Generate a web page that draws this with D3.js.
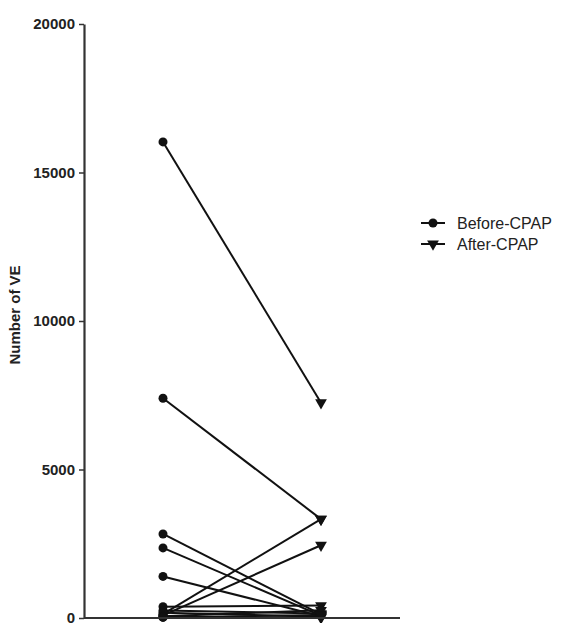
<!DOCTYPE html>
<html>
<head>
<meta charset="utf-8">
<script src="https://cdn.jsdelivr.net/npm/d3@7"></script>
<style>
body { margin: 0; background: #fff; }
text { font-family: Arial, "Liberation Sans", sans-serif; fill: #222; }
.tick text { font-size: 15px; font-weight: bold; }
</style>
</head>
<body>
<div id="chart"></div>
<script>
var width = 563;
var height = 623;

// datos (pares antes / despues)
var groups = ["Before-CPAP", "After-CPAP"];
var before = [16030, 7400, 2830, 2360, 1400, 130, 90, 380, 250, 180, 60, 30, 20];
var after  = [7250, 3330, 120, 80, 60, 3330, 2450, 420, 150, 40, 260, 10, 100];
var yTicks = [0, 5000, 10000, 15000, 20000];

var svg = d3.select("#chart")
			.append("svg")
			.attr("width", width)
			.attr("height", height);

var x = d3.scalePoint().domain(groups).range([84, 400]).padding(0.5);
var y = d3.scaleLinear().domain([0, 20000]).range([618, 24]);

// lineas entre pares
var grupo_lineas = svg.append("g");
for (var i = 0; i < before.length; i++)
{
	grupo_lineas.append("line")
				.attr("x1", x(groups[0]))
				.attr("y1", y(before[i]))
				.attr("x2", x(groups[1]))
				.attr("y2", y(after[i]))
				.attr("stroke", "#111")
				.attr("stroke-width", 2);
}

var tri = d3.symbol().type(d3.symbolTriangle).size(60);

// marcadores
svg.append("g").selectAll("circle")
	.data(before)
	.enter().append("circle")
	.attr("cx", x(groups[0]))
	.attr("cy", function(d) { return y(d); })
	.attr("r", 4.5)
	.attr("fill", "#111");

svg.append("g").selectAll("path")
	.data(after)
	.enter().append("path")
	.attr("d", tri)
	.attr("transform", function(d) { return "translate(" + x(groups[1]) + "," + y(d) + ") rotate(180)"; })
	.attr("fill", "#111");

// ejes
var ejeY = svg.append("g")
	.attr("transform", "translate(84,0)")
	.call(d3.axisLeft(y).tickValues(yTicks).tickFormat(d3.format("d")).tickSize(5).tickSizeOuter(0).tickPadding(4));

var ejeX = svg.append("g")
	.attr("transform", "translate(0,618)")
	.call(d3.axisBottom(x).tickValues([]).tickSizeOuter(0));
x.range();
ejeX.select(".domain").attr("d", "M84,0H400");

svg.selectAll(".domain").attr("stroke", "#333").attr("stroke-width", 2.2);
svg.selectAll(".tick line").attr("stroke", "#333").attr("stroke-width", 1.5);

// titulo eje
svg.append("text")
	.attr("transform", "translate(20," + (y(10000) - 6) + ") rotate(-90)")
	.attr("text-anchor", "middle")
	.style("font-size", "15px")
	.style("font-weight", "bold")
	.text("Number of VE");

// leyenda
var leyenda = svg.append("g");
var ly = [223, 244];
for (i = 0; i < 2; i++)
{
	leyenda.append("line")
		.attr("x1", 421).attr("x2", 445)
		.attr("y1", ly[i]).attr("y2", ly[i])
		.attr("stroke", "#111").attr("stroke-width", 2);
	if (i == 0)
		leyenda.append("circle").attr("cx", 433).attr("cy", ly[i]).attr("r", 4.5).attr("fill", "#111");
	else
		leyenda.append("path").attr("d", tri).attr("transform", "translate(433," + ly[i] + ") rotate(180)").attr("fill", "#111");
	leyenda.append("text")
		.attr("x", 457)
		.attr("y", ly[i])
		.attr("dy", "0.36em")
		.style("font-size", "16px")
		.text(groups[i]);
}
</script>
</body>
</html>
